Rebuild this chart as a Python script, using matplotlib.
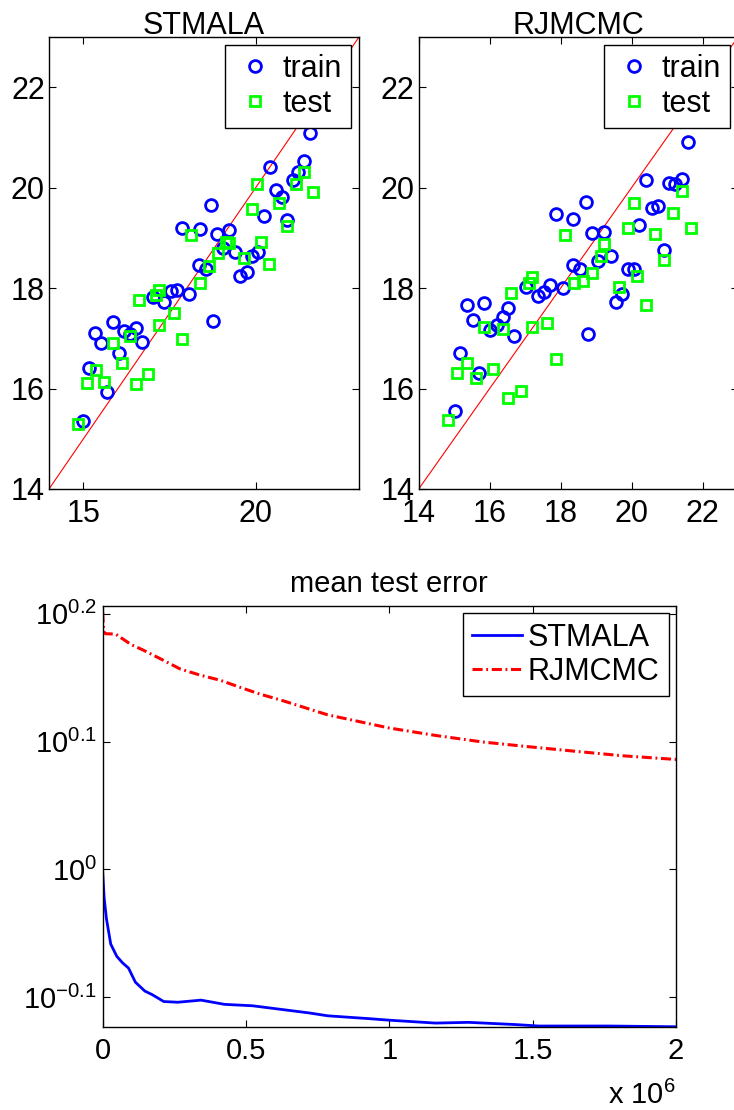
import numpy as np
import matplotlib
matplotlib.use('Agg')
import matplotlib.pyplot as plt
import matplotlib.ticker as tick

plt.rcParams['font.family'] = ['Liberation Sans', 'DejaVu Sans']
plt.rcParams['mathtext.fontset'] = 'custom'
plt.rcParams['mathtext.rm'] = 'Liberation Sans'
plt.rcParams['mathtext.it'] = 'Liberation Sans:italic'
plt.rcParams['mathtext.bf'] = 'Liberation Sans:bold'

# STMALA panel: (true, predicted)
stmala_train_x = [15.00, 15.17, 15.34, 15.50, 15.68, 15.85, 16.02, 16.18, 16.35, 16.52, 16.69,
                  17.02, 17.35, 17.53, 17.71, 18.05, 17.87, 18.37, 18.36, 18.55, 18.70, 18.75,
                  18.89, 19.06, 19.24, 19.39, 19.55, 19.74, 19.90, 20.07, 20.24, 20.42, 20.58,
                  20.75, 20.90, 21.07, 21.24, 21.40, 21.59]
stmala_train_y = [15.35, 16.40, 17.11, 16.90, 15.93, 17.32, 16.71, 17.14, 17.08, 17.20, 16.92,
                  17.82, 17.72, 17.95, 17.96, 17.88, 19.19, 19.17, 18.46, 18.38, 19.65, 17.35,
                  19.07, 18.80, 19.15, 18.71, 18.25, 18.32, 18.63, 18.71, 19.43, 20.42, 19.96,
                  19.82, 19.35, 20.16, 20.32, 20.53, 21.09]
stmala_test_x = [14.84, 15.10, 15.35, 15.60, 15.85, 16.11, 16.35, 16.52, 16.61, 16.87, 17.10,
                 17.20, 17.20, 17.62, 17.87, 18.12, 18.38, 18.64, 18.90, 19.15, 19.24, 19.65,
                 19.90, 20.05, 20.15, 20.40, 20.67, 20.90, 21.16, 21.40, 21.65]
stmala_test_y = [15.30, 16.12, 16.36, 16.14, 16.90, 16.50, 17.04, 16.10, 17.77, 16.29, 17.87,
                 17.97, 17.27, 17.50, 16.99, 19.06, 18.10, 18.44, 18.69, 18.91, 18.90, 18.60,
                 19.58, 20.07, 18.92, 18.49, 19.69, 19.24, 20.07, 20.31, 19.92]

# RJMCMC panel
rjmcmc_train_x = [15.01, 15.16, 15.35, 15.52, 15.70, 15.85, 16.01, 16.20, 16.37, 16.53, 16.68,
                  17.02, 17.35, 17.53, 17.70, 18.06, 17.87, 18.35, 18.35, 18.54, 18.71, 18.76,
                  18.89, 19.23, 19.06, 19.41, 19.56, 19.72, 19.90, 20.06, 20.21, 20.41, 20.58,
                  20.75, 20.91, 21.06, 21.23, 21.42, 21.59]
rjmcmc_train_y = [15.56, 16.70, 17.66, 17.37, 16.30, 17.70, 17.17, 17.27, 17.43, 17.60, 17.05,
                  18.03, 17.85, 17.93, 18.07, 18.01, 19.48, 19.37, 18.47, 18.38, 19.71, 17.08,
                  19.10, 19.11, 18.53, 18.63, 17.73, 17.88, 18.38, 18.38, 19.25, 20.16, 19.59,
                  19.63, 18.75, 20.09, 20.08, 20.18, 20.90]
rjmcmc_test_x = [14.83, 15.09, 15.35, 15.61, 16.10, 15.85, 16.37, 16.52, 16.60, 16.87, 17.12,
                 17.20, 17.20, 17.63, 17.87, 18.12, 18.38, 18.64, 18.89, 19.14, 19.23, 19.65,
                 19.90, 20.07, 20.16, 20.40, 20.66, 20.91, 21.17, 21.43, 21.67]
rjmcmc_test_y = [15.37, 16.30, 16.50, 16.21, 16.39, 17.23, 17.18, 15.81, 17.90, 15.95, 18.11,
                 18.23, 17.23, 17.31, 16.58, 19.05, 18.11, 18.15, 18.30, 18.63, 18.88, 18.03,
                 19.20, 19.69, 18.25, 17.66, 19.07, 18.56, 19.49, 19.93, 19.19]

scatter_ticks = [14, 16, 18, 20, 22]
stmala_xticks = [15, 20]
diag = [14, 23]

# mean test error vs iterations
stmala_iter = [0, 5e3, 13e3, 28e3, 49e3, 69e3, 90e3, 114e3, 147e3, 172e3, 213e3, 262e3, 343e3,
               425e3, 523e3, 621e3, 720e3, 785e3, 932e3, 998e3, 1161e3, 1276e3, 1439e3,
               1521e3, 1766e3, 2000e3]
stmala_err = [0.995, 0.950, 0.915, 0.874, 0.855, 0.845, 0.837, 0.816, 0.803, 0.798, 0.788,
              0.787, 0.790, 0.784, 0.782, 0.777, 0.772, 0.768, 0.764, 0.762, 0.758, 0.759,
              0.756, 0.754, 0.754, 0.753]
rjmcmc_iter = [0, 3e3, 10e3, 45e3, 100e3, 140e3, 200e3, 270e3, 340e3, 410e3, 480e3, 550e3,
               620e3, 785e3, 1000e3, 1160e3, 1325e3, 1490e3, 1650e3, 1815e3, 2000e3]
rjmcmc_err = [1.589, 1.535, 1.529, 1.528, 1.499, 1.485, 1.462, 1.435, 1.419, 1.406, 1.388,
              1.371, 1.357, 1.321, 1.290, 1.273, 1.258, 1.247, 1.237, 1.227, 1.219]
err_ticks = [10 ** -0.1, 10 ** 0, 10 ** 0.1, 10 ** 0.2]
err_ticklabels = [r'$10^{-0.1}$', r'$10^{0}$', r'$10^{0.1}$', r'$10^{0.2}$']
iter_ticks = [0, 0.5e6, 1e6, 1.5e6, 2e6]

W, H = 734, 1110
fig = plt.figure(figsize=(W / 100, H / 100), dpi=100)


def box(l, t, r, b):
    return [l / W, 1 - b / H, (r - l) / W, (b - t) / H]


def scatterPanel(ax, title, tx, ty, sx, sy, xticks):
    ax.plot(diag, diag, '-', color='r', lw=0.8, zorder=1)
    ax.plot(tx, ty, 'o', mfc='none', mec='b', ms=8.5, mew=2.0, label='train', zorder=3)
    ax.plot(sx, sy, 's', mfc='none', mec=(0, 1, 0), ms=6.5, mew=2.0, label='test', zorder=3)
    ax.set_xlim(diag)
    ax.set_ylim(diag)
    ax.set_xticks(xticks)
    ax.set_yticks(scatter_ticks)
    ax.tick_params(direction='in', length=5, top=True, right=True, labelsize=22, width=0.8)
    ax.tick_params(axis='x', pad=7)
    ax.tick_params(axis='y', pad=3)
    for s in ax.spines.values():
        s.set_linewidth(1.0)
    ax.set_title(title, fontsize=22, pad=2)
    leg = ax.legend(loc='upper right', fontsize=22, borderaxespad=0.26, borderpad=0.3,
                    handlelength=1.37, handletextpad=0.2, labelspacing=0.15,
                    fancybox=False, framealpha=1, edgecolor='k')
    leg.get_frame().set_linewidth(1.0)


axL = fig.add_axes(box(49, 37, 359, 489))
scatterPanel(axL, 'STMALA', stmala_train_x, stmala_train_y, stmala_test_x, stmala_test_y,
             stmala_xticks)

axR = fig.add_axes(box(418.7, 37, 738, 489))
scatterPanel(axR, 'RJMCMC', rjmcmc_train_x, rjmcmc_train_y, rjmcmc_test_x, rjmcmc_test_y,
             scatter_ticks)

# bottom panel
ax = fig.add_axes(box(102.7, 606, 676, 1027))
ax.plot(stmala_iter, stmala_err, '-', color='b', lw=2.0, label='STMALA')
ax.plot(rjmcmc_iter, rjmcmc_err, color='r', lw=2.2, linestyle=(0, (3.3, 1.2, 0.6, 1.2)),
        label='RJMCMC')
ax.set_yscale('log')
ax.set_xlim(0, 2e6)
ax.set_ylim(10 ** -0.1234, 10 ** 0.2061)
ax.set_yticks(err_ticks)
ax.set_yticklabels(err_ticklabels)
ax.yaxis.set_minor_locator(tick.NullLocator())
ax.set_xticks(iter_ticks)
ax.xaxis.set_major_formatter(tick.FuncFormatter(lambda v, p: format(v / 1e6, 'g')))
ax.tick_params(direction='in', length=5, top=True, right=True, labelsize=21, width=0.8)
ax.tick_params(axis='x', pad=7)
ax.tick_params(axis='y', pad=4)
for s in ax.spines.values():
    s.set_linewidth(1.0)
ax.set_title('mean test error', fontsize=21, pad=10)
ax.text(1.0, -0.183, r'x $10^{6}$', transform=ax.transAxes, ha='right', va='baseline',
        fontsize=21)
leg = ax.legend(loc='upper right', fontsize=22, borderaxespad=0.24, borderpad=0.3,
                handlelength=1.62, handletextpad=0.2, labelspacing=0.15,
                fancybox=False, framealpha=1, edgecolor='k')
leg.get_frame().set_linewidth(1.0)

fig.savefig('out.png', dpi=100)
